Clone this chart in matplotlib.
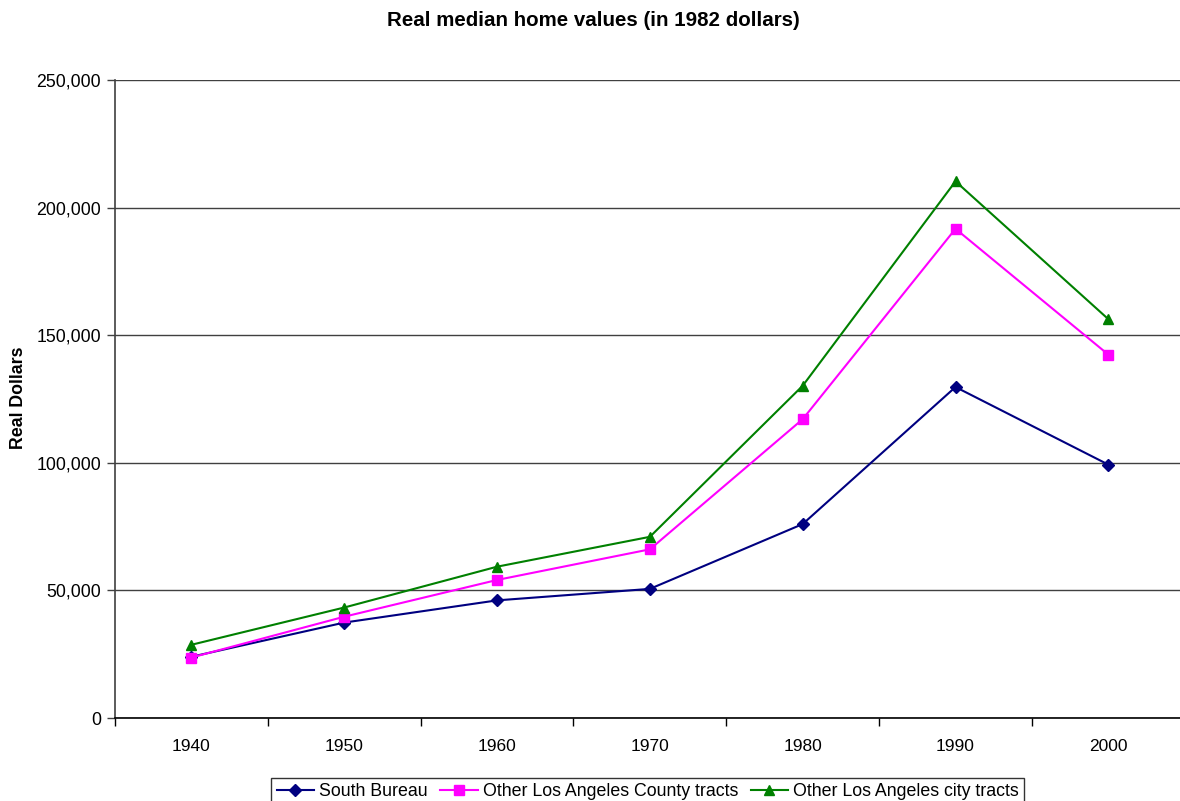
import matplotlib.pyplot as plt
import numpy as np

plt.rcParams['font.family'] = ['Liberation Sans', 'DejaVu Sans']

# Data
years = ['1940', '1950', '1960', '1970', '1980', '1990', '2000']
south_bureau = [24000, 37400, 46100, 50600, 76000, 129700, 99300]
county_tracts = [23700, 39700, 54100, 66100, 117100, 191700, 142400]
city_tracts = [28700, 43300, 59300, 71000, 130200, 210300, 156300]

fig = plt.figure(figsize=(11.8, 8.01), dpi=100)
ax = fig.add_axes([0.0975, 0.1036, 0.9065, 0.7965])

x = np.arange(len(years))
ax.plot(x, south_bureau, color='#000080', marker='D', markersize=6, linewidth=1.5,
        label='South Bureau')
ax.plot(x, county_tracts, color='#FF00FF', marker='s', markersize=7, linewidth=1.5,
        label='Other Los Angeles County tracts')
ax.plot(x, city_tracts, color='#008000', marker='^', markersize=7.5, linewidth=1.5,
        label='Other Los Angeles city tracts')

ax.set_xlim(-0.5, len(years) - 0.5)
ax.set_ylim(0, 250000)
ax.set_yticks(np.arange(0, 250001, 50000))
ax.set_yticklabels([f'{v:,}' for v in range(0, 250001, 50000)], fontsize=12.8)
ax.set_xticks(x)
ax.set_xticklabels(years, fontsize=12.5)
ax.set_xticks(np.arange(-0.5, len(years)), minor=True)
ax.tick_params(axis='x', which='major', length=0, pad=15)
ax.tick_params(axis='x', which='minor', length=6, width=1, color='black', direction='out')
ax.tick_params(axis='y', length=6, width=1, color='#404040', direction='out', pad=4)

ax.grid(axis='y', color='#404040', linewidth=1)
ax.set_axisbelow(True)
for side in ['top', 'right']:
    ax.spines[side].set_visible(False)
ax.spines['left'].set_color('#404040')
ax.spines['left'].set_linewidth(1.2)
ax.spines['bottom'].set_color('black')
ax.spines['bottom'].set_linewidth(1.2)

fig.text(0.503, 0.975, 'Real median home values (in 1982 dollars)', ha='center', va='center',
         fontsize=14.8, fontweight='bold')
fig.text(0.0153, 0.503, 'Real Dollars', rotation=90, ha='center', va='center',
         fontsize=12.8, fontweight='bold')

leg = fig.legend(loc='upper center', bbox_to_anchor=(0.549, 0.0290), ncol=3, fontsize=12.8,
                 frameon=True, fancybox=False, edgecolor='black', borderpad=0.3,
                 handlelength=2.1, handletextpad=0.3, columnspacing=0.7, borderaxespad=0)
leg.get_frame().set_linewidth(1)

fig.savefig('out.png', dpi=100)
